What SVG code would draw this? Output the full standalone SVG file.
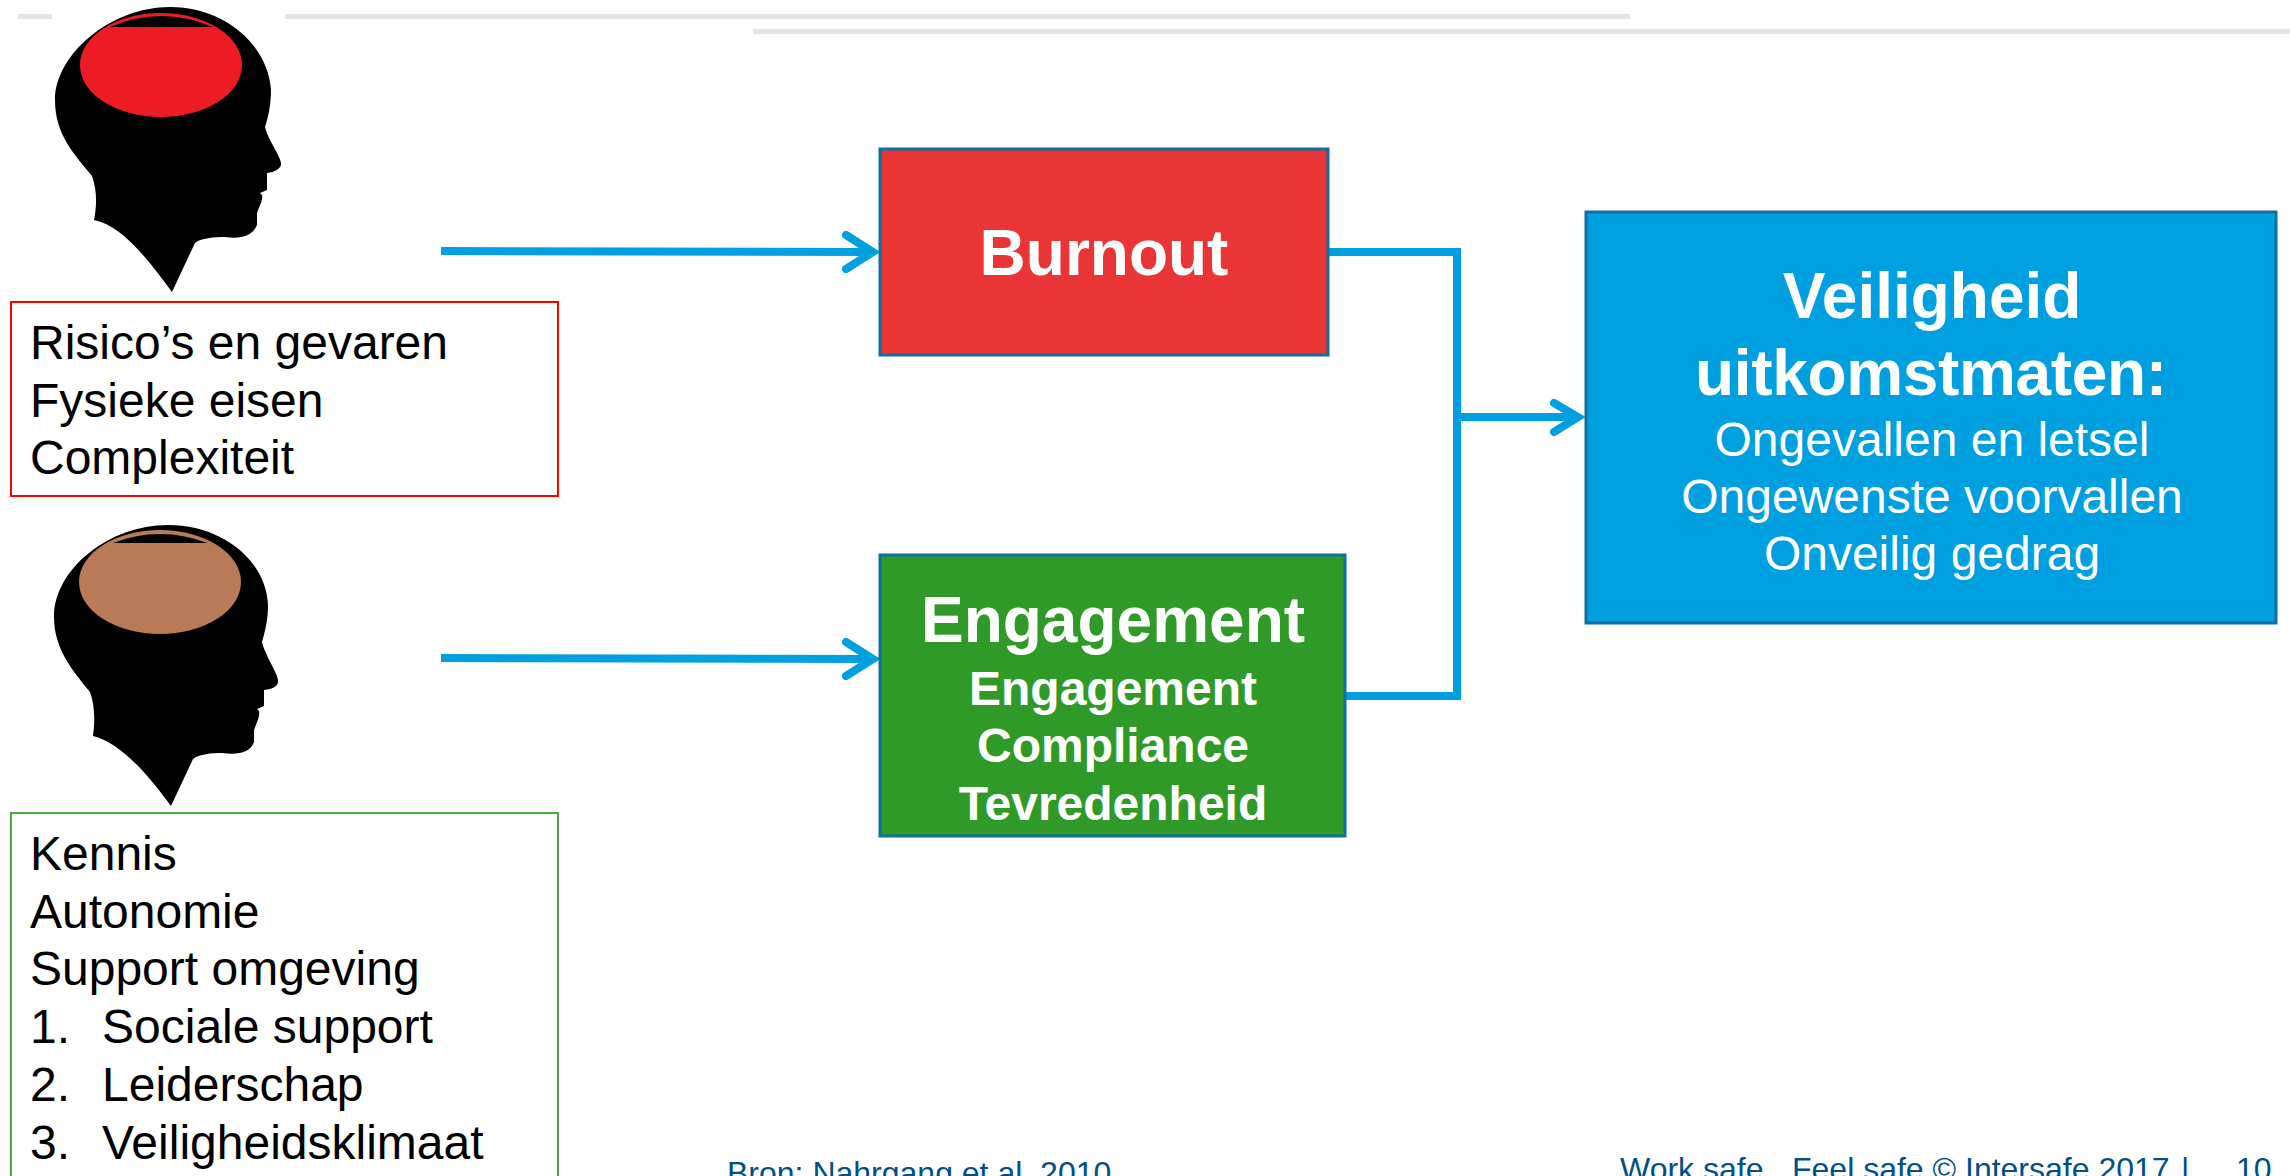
<svg xmlns="http://www.w3.org/2000/svg" width="2290" height="1176" viewBox="0 0 2290 1176">
<style>
text{font-family:"Liberation Sans",Arial,sans-serif}
.b{font-size:48px;fill:#000}
.w{fill:#fff;text-anchor:middle}
.bd{font-weight:bold}
.f{font-size:32px;fill:#004f86}
.c{fill:none;stroke:#009fdf;stroke-width:8}
.h{fill:none;stroke:#009fdf;stroke-width:8;stroke-linecap:round}
.g{fill:#e4e4e4}
</style>
<g id="top-lines">
<rect class="g" x="18" y="14" width="34" height="5"/>
<rect class="g" x="285" y="14" width="1345" height="5"/>
<rect class="g" x="753" y="29" width="1537" height="5"/>
</g>
<g id="head-risk">
<path d="M172 292L195 243C200 238 215 237 225 237C240 239 252 237 257 225L257 213C260 205 263 200 262 195L260 193L267 190L267 173C275 172 282 168 281 163C280 155 268 140 265 127C268 118 271 105 271 90C268 45 225 7 170 7C110 7 55 55 55 100C55 135 75 155 92 176C97 190 97 205 94 220C120 225 145 255 172 292Z" fill="#000"/>
<ellipse cx="161" cy="65" rx="81" ry="52" fill="#ed1c24"/>
<path d="M110 27Q161 5 213 27Z" fill="#000"/>
</g>
<g id="head-resource">
<path d="M171 806L193 759C199 754 212 753 222 753C238 755 250 753 254 742L254 730C257 722 260 717 259 711L257 709L264 706L264 690C273 689 279 686 278 680C277 672 265 655 262 642C265 632 268 620 268 605C266 560 222 525 168 525C108 525 54 570 54 617C54 650 74 672 90 692C95 706 95 722 93 736C118 742 145 770 171 806Z" fill="#000"/>
<ellipse cx="160" cy="582" rx="81" ry="52" fill="#b97a57"/>
<path d="M113 543Q160 525 207 543Z" fill="#000"/>
</g>
<g id="box-risk">
<rect x="11" y="302" width="547" height="194" fill="#fff" stroke="#f00" stroke-width="2"/>
<text class="b" x="30" y="359">Risico’s en gevaren</text>
<text class="b" x="30" y="417">Fysieke eisen</text>
<text class="b" x="30" y="474">Complexiteit</text>
</g>
<g id="box-resource">
<rect x="11" y="813" width="547" height="380" fill="#fff" stroke="#4aa83e" stroke-width="2"/>
<text class="b" x="30" y="870">Kennis</text>
<text class="b" x="30" y="928">Autonomie</text>
<text class="b" x="30" y="985">Support omgeving</text>
<text class="b" x="30" y="1043">1.</text><text class="b" x="102" y="1043">Sociale support</text>
<text class="b" x="30" y="1101">2.</text><text class="b" x="102" y="1101">Leiderschap</text>
<text class="b" x="30" y="1159">3.</text><text class="b" x="102" y="1159">Veiligheidsklimaat</text>
</g>
<g id="connectors">
<path class="c" d="M441 251L872 252"/>
<path class="h" d="M846 235L873 252L846 269"/>
<path class="c" d="M441 658L872 659"/>
<path class="h" d="M846 642L873 659L846 676"/>
<path class="c" d="M1329 252H1457V696H1346"/>
<path class="c" d="M1457 417H1576"/>
<path class="h" d="M1554 403L1578 417L1554 432"/>
</g>
<g id="node-burnout">
<rect x="880" y="149" width="448" height="206" fill="#e93535" stroke="#0f6fa0" stroke-width="3"/>
<text class="w bd" x="1104" y="275" font-size="64">Burnout</text>
</g>
<g id="node-engagement">
<rect x="880" y="555" width="465" height="281" fill="#2f9a27" stroke="#0f6fa0" stroke-width="3"/>
<text class="w bd" x="1113" y="642" font-size="64">Engagement</text>
<text class="w bd" x="1113" y="705" font-size="48">Engagement</text>
<text class="w bd" x="1113" y="762" font-size="48">Compliance</text>
<text class="w bd" x="1113" y="820" font-size="48">Tevredenheid</text>
</g>
<g id="node-outcome">
<rect x="1586" y="212" width="690" height="411" fill="#009fdf" stroke="#0f6fa0" stroke-width="3"/>
<text class="w bd" x="1932" y="318" font-size="64">Veiligheid</text>
<text class="w bd" x="1931" y="395" font-size="64" textLength="472">uitkomstmaten:</text>
<text class="w" x="1932" y="456" font-size="48">Ongevallen en letsel</text>
<text class="w" x="1932" y="513" font-size="48">Ongewenste voorvallen</text>
<text class="w" x="1932" y="570" font-size="48">Onveilig gedrag</text>
</g>
<g id="footer">
<text class="f" x="727" y="1184">Bron: Nahrgang et al. 2010</text>
<text class="f" x="1620" y="1180">Work safe</text>
<text class="f" x="1792" y="1180">Feel safe © Intersafe 2017</text>
<text class="f" x="2181" y="1180">|</text>
<text class="f" x="2236" y="1180">10</text>
</g>
</svg>
